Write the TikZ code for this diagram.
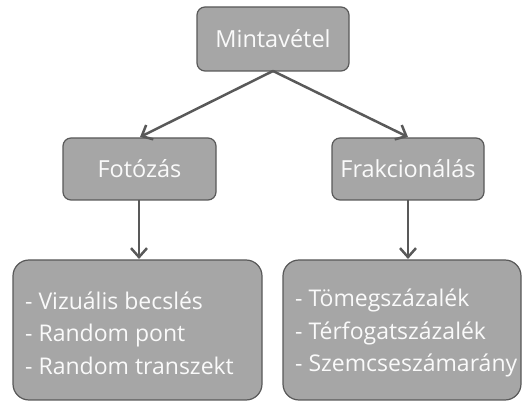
\documentclass[tikz,border=0pt]{standalone}
\usepackage{fontspec}
\setmainfont{Open Sans}
\usetikzlibrary{arrows.meta}
\definecolor{boxfill}{HTML}{A6A6A6}
\definecolor{boxline}{HTML}{595959}
\definecolor{arrowc}{HTML}{595959}
\definecolor{txt}{HTML}{FAFAFA}
\tikzset{
  box/.style={draw=boxline, line width=1.2pt, fill=boxfill, rounded corners=8pt},
  bigbox/.style={draw=boxline, line width=1.2pt, fill=boxfill, rounded corners=16pt},
  lbl/.style={text=txt, font=\fontsize{23.5}{28}\selectfont, inner sep=0pt},
  lst/.style={text=txt, font=\fontsize{23}{32.5}\selectfont, align=left, anchor=west, inner sep=0pt},
  conn/.style={draw=arrowc, line width=2.5pt, -{Straight Barb[length=9pt,width=16pt,line width=2.5pt]}}
}
\begin{document}
\begin{tikzpicture}[x=1pt,y=1pt]
\useasboundingbox (0,0) rectangle (523,-403);
\draw[box] (197,-7) rectangle (349,-71);
\node[lbl] (m) at (273,-39) {Mintavétel};
\coordinate (mb) at (273,-71);
\draw[box] (63,-138) rectangle (216,-200);
\node[lbl] (f) at (139.5,-169) {Fotózás};
\draw[box] (332,-138) rectangle (484,-200);
\node[lbl] (k) at (408,-169) {Frakcionálás};
\draw[bigbox] (13,-260) rectangle (262,-400);
\node[lst] (l) at (25,-333) {- Vizuális becslés\\- Random pont\\- Random transzekt};
\draw[bigbox] (283,-260) rectangle (521,-400);
\node[lst] (r) at (295,-333) {- Tömegszázalék\\- Térfogatszázalék\\- Szemcseszámarány};
\coordinate (ft) at (140,-137);
\coordinate (kt) at (408,-137);
\coordinate (fb) at (139,-200);
\coordinate (lt) at (139,-259);
\coordinate (kb) at (408,-200);
\coordinate (rt) at (408,-259);
\draw[conn] (mb) -- (ft);
\draw[conn] (mb) -- (kt);
\draw[conn] (fb) -- (lt);
\draw[conn] (kb) -- (rt);
\end{tikzpicture}
\end{document}
